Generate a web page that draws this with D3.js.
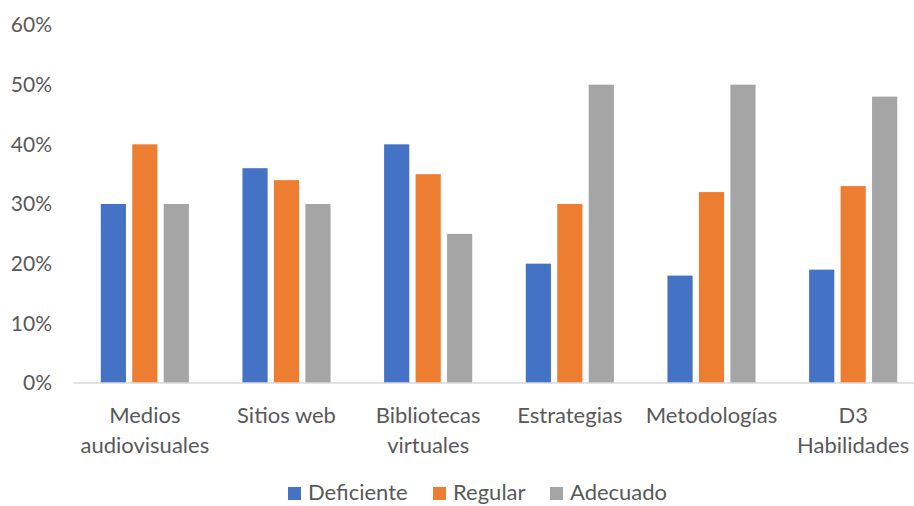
<!DOCTYPE html>
<html>
<head>
<meta charset="utf-8">
<script src="https://cdn.jsdelivr.net/npm/d3@7"></script>
<style>
  body { margin: 0; background: #fff; }
  svg { display: block; font-family: Lato, "Open Sans", sans-serif; }
</style>
</head>
<body>
<div id="canvas"></div>
<script>
let categories = [['Medios', 'audiovisuales'], ['Sitios web'], ['Bibliotecas', 'virtuales'], ['Estrategias'], ['Metodologías'], ['D3', 'Habilidades']]
let series = ['Deficiente', 'Regular', 'Adecuado']
let deficiente = [30, 36, 40, 20, 18, 19]
let regular = [40, 34, 35, 30, 32, 33]
let adecuado = [30, 30, 25, 50, 50, 48]
let yTicks = [0, 10, 20, 30, 40, 50, 60]
let colors = ['#4472C4', '#ED7D31', '#A5A5A5']

let values = [deficiente, regular, adecuado]
let catNames = categories.map(c => c.join(' '))

let svg = d3.select('#canvas').append('svg')
    .attr('width', 914)
    .attr('height', 506)

// x escala de grupos y de barras dentro del grupo
let x0 = d3.scaleBand()
    .domain(catNames)
    .range([74, 924])
    .paddingInner(0.378)
    .paddingOuter(0.189)

let x1 = d3.scaleBand()
    .domain(series)
    .range([0, x0.bandwidth()])
    .paddingInner(0.2)

let yScale = d3.scaleLinear()
    .domain([0, 60])
    .range([383, 25])

// barras
series.forEach((s, j) => {
    svg.append('g').selectAll('rect')
        .data(values[j])
        .enter()
        .append('rect')
        .attr('x', (d, i) => x0(catNames[i]) + x1(s))
        .attr('y', d => yScale(d))
        .attr('width', x1.bandwidth())
        .attr('height', d => yScale(0) - yScale(d))
        .style('fill', colors[j])
})

// eje y (solo etiquetas)
let yAxis = d3.axisLeft(yScale)
    .tickValues(yTicks)
    .tickFormat(d => d + '%')
    .tickSize(0)
    .tickPadding(0)

let gy = svg.append('g')
    .attr('transform', 'translate(52, 0)')
    .call(yAxis)
gy.select('.domain').remove()
gy.selectAll('text')
    .style('font-size', '21px')
    .style('fill', '#595959')
    .style('font-family', 'Lato, sans-serif')

// linea base
svg.append('line')
    .attr('x1', 74).attr('x2', 914)
    .attr('y1', yScale(0)).attr('y2', yScale(0))
    .style('stroke', '#D9D9D9')
    .style('stroke-width', 1.5)

// etiquetas de categorias
let xAxis = d3.axisBottom(x0).tickSize(0).tickFormat('')
let gx = svg.append('g')
    .attr('transform', `translate(0, ${yScale(0)})`)
    .call(xAxis)
gx.select('.domain').remove()

categories.forEach((lines, i) => {
    let t = svg.append('text')
        .attr('x', x0(catNames[i]) + x0.bandwidth() / 2)
        .attr('y', 423)
        .attr('text-anchor', 'middle')
        .style('font-size', '22px')
        .style('fill', '#595959')
    lines.forEach((l, k) => {
        t.append('tspan')
            .attr('x', x0(catNames[i]) + x0.bandwidth() / 2)
            .attr('dy', k == 0 ? 0 : 30)
            .text(l)
    })
})

// leyenda
let legendX = [288, 433, 550]
series.forEach((s, j) => {
    let g = svg.append('g').attr('transform', `translate(${legendX[j]}, 487)`)
    g.append('rect')
        .attr('width', 13).attr('height', 13)
        .style('fill', colors[j])
    g.append('text')
        .attr('x', 20)
        .attr('y', 13)
        .style('font-size', '22px')
        .style('fill', '#595959')
        .text(s)
})
</script>
</body>
</html>
